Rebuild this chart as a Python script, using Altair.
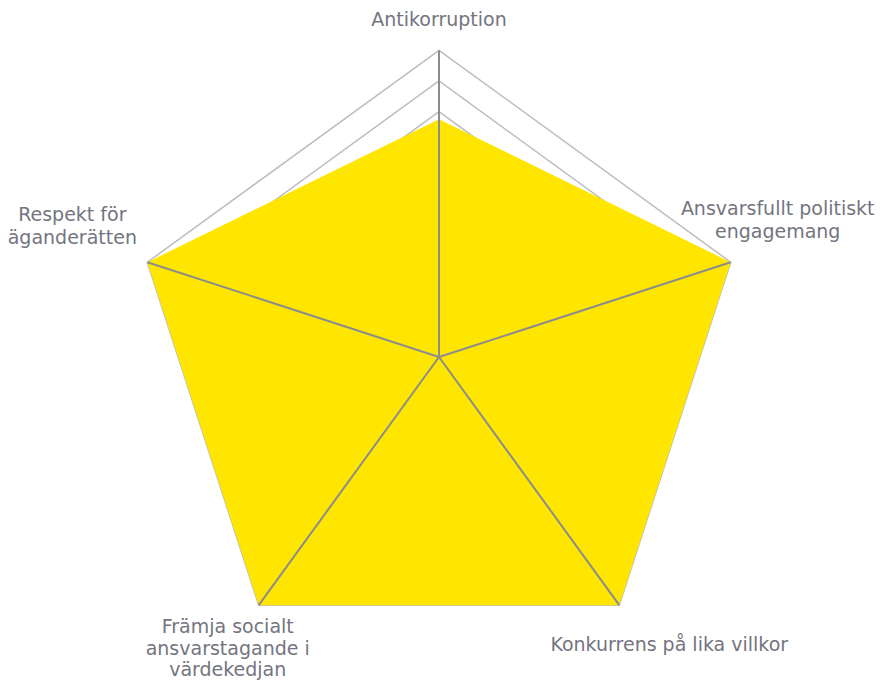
import math
import altair as alt
import pandas as pd

# ---- data ----
categories = [
    "Antikorruption",
    "Ansvarsfullt politiskt engagemang",
    "Konkurrens på lika villkor",
    "Främja socialt ansvarstagande i värdekedjan",
    "Respekt för äganderätten",
]
label_lines = [
    "Antikorruption",
    "Ansvarsfullt politiskt\nengagemang",
    "Konkurrens på lika villkor",
    "Främja socialt\nansvarstagande i\nvärdekedjan",
    "Respekt för\näganderätten",
]
values = [7.75, 10, 10, 10, 10]
grid_levels = [1, 2, 3, 4, 5, 6, 7, 8, 9, 10]
axis_max = 10

n = len(categories)

# ---- tables ----
series_df = pd.DataFrame(
    {
        "idx": list(range(n)) + [n],
        "category": categories + [categories[0]],
        "value": values + [values[0]],
    }
)
grid_df = pd.DataFrame(
    [
        {"level": lv, "idx": i}
        for lv in grid_levels
        for i in range(n + 1)
    ]
)
spoke_df = pd.DataFrame(
    {"idx": list(range(n)), "category": categories, "value": [axis_max] * n, "label": label_lines}
)

N = n
ang = f"2*PI*datum.idx/{N}"

# ---- geometry / scales ----
W, H = 868, 676
k = 30.67  # px per unit
cx, cy = 431, 349
xdom = [-cx / k, (W - cx) / k]
ydom = [-(H - cy) / k, cy / k]

xs = alt.Scale(domain=xdom, nice=False, zero=False)
ys = alt.Scale(domain=ydom, nice=False, zero=False)
X = lambda f: alt.X(f, type="quantitative", scale=xs, axis=None)
Y = lambda f: alt.Y(f, type="quantitative", scale=ys, axis=None)

grid = (
    alt.Chart(grid_df)
    .transform_calculate(
        gx=f"datum.level*sin({ang})", gy=f"datum.level*cos({ang})"
    )
    .mark_line(color="#bdbdbd", strokeWidth=1.5)
    .encode(
        x=X("gx"),
        y=Y("gy"),
        detail="level:N",
        order="idx:Q",
    )
)

area = (
    alt.Chart(series_df)
    .transform_calculate(
        px=f"datum.value*sin({ang})", py=f"datum.value*cos({ang})"
    )
    .mark_line(fill="#FFE600", stroke=None, strokeWidth=0, fillOpacity=1)
    .encode(x=X("px"), y=Y("py"), order="idx:Q")
)

spokes = (
    alt.Chart(spoke_df)
    .transform_calculate(
        sx=f"datum.value*sin({ang})",
        sy=f"datum.value*cos({ang})",
        ox="0",
        oy="0",
    )
    .mark_rule(color="#8c8c8c", strokeWidth=2)
    .encode(x=X("ox"), y=Y("oy"), x2="sx:Q", y2="sy:Q")
)

offsets = [(0, -30), (47, -53), (50, 40), (-31, 22), (-75, -47)]
line_heights = [22.5, 22.5, 22.5, 21.5, 22.5]
label_layers = []
for i, (dx, dy) in enumerate(offsets):
    label_layers.append(
        alt.Chart(spoke_df)
        .transform_filter(f"datum.idx == {i}")
        .transform_calculate(
            lx=f"datum.value*sin({ang})", ly=f"datum.value*cos({ang})"
        )
        .mark_text(
            dx=dx,
            dy=dy,
            align="center",
            baseline="middle",
            lineBreak="\n",
            lineHeight=line_heights[i],
            font="DejaVu Sans",
            fontSize=19,
            color="#747480",
        )
        .encode(x=X("lx"), y=Y("ly"), text="label:N")
    )

chart = (
    alt.layer(grid, area, spokes, *label_layers)
    .properties(width=W, height=H, padding=0, autosize=alt.AutoSizeParams(type="none"))
    .configure_view(stroke=None)
)

chart.save("out.html", embed_options={"renderer": "svg", "actions": False})
